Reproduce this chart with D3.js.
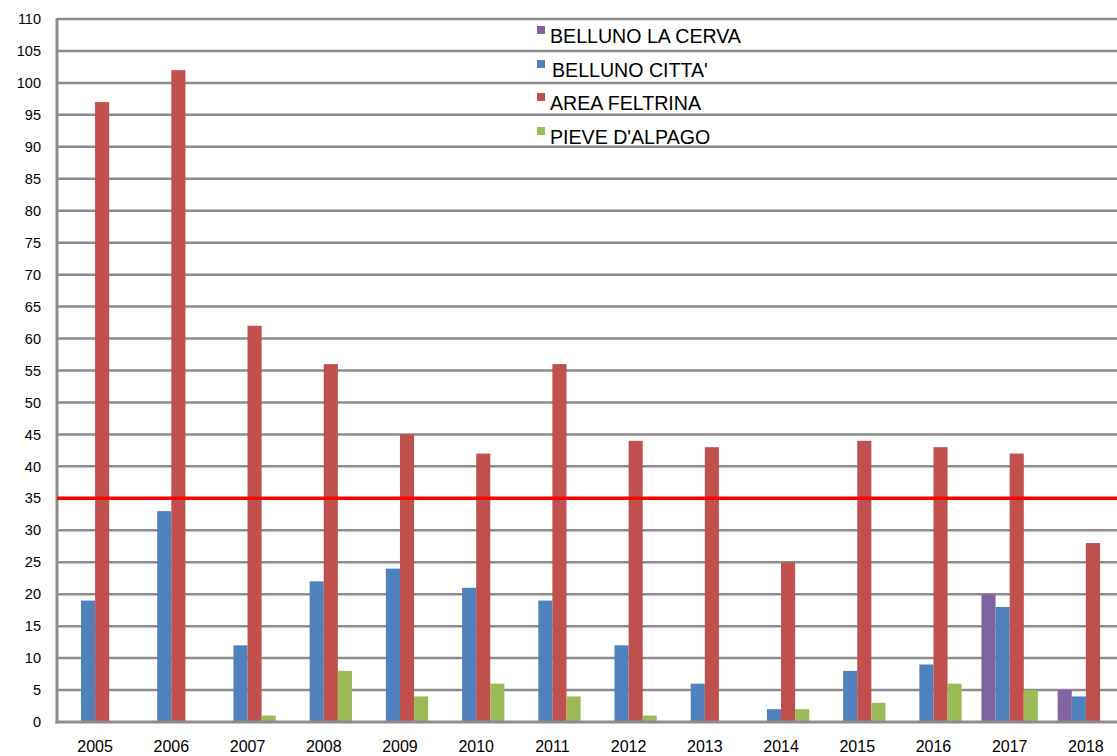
<!DOCTYPE html>
<html><head><meta charset="utf-8">
<script src="https://cdn.jsdelivr.net/npm/d3@7"></script>
<style>body{margin:0;background:#fff;}svg{display:block;}</style>
</head><body>
<svg id="c" width="1117" height="756"></svg>
<script>
const years = ["2005","2006","2007","2008","2009","2010","2011","2012","2013","2014","2015","2016","2017","2018"];
const seriesNames = ["BELLUNO LA CERVA","BELLUNO CITTA'","AREA FELTRINA","PIEVE D'ALPAGO"];
const bellunoLaCerva = [0,0,0,0,0,0,0,0,0,0,0,0,20,5];
const bellunoCitta = [19,33,12,22,24,21,19,12,6,2,8,9,18,4];
const areaFeltrina = [97,102,62,56,45,42,56,44,43,25,44,43,42,28];
const pieveDAlpago = [0,0,1,8,4,6,4,1,0,2,3,6,5,0];
const yTicks = [0,5,10,15,20,25,30,35,40,45,50,55,60,65,70,75,80,85,90,95,100,105,110];
const threshold = 35;
const colors = ["#8064A2","#4F81BD","#C0504D","#9BBB59"];
const seriesData = [bellunoLaCerva,bellunoCitta,areaFeltrina,pieveDAlpago];

(function(){
const svg = d3.select("#c");
const L = 57, R = 1124, T = 19, B = 722;
const y = d3.scaleLinear().domain([0,110]).range([B,T]);
const x = d3.scaleBand().domain(years).range([L,R]).paddingInner(0.26).paddingOuter(0.13);
const xs = d3.scaleBand().domain(d3.range(4)).range([0,x.bandwidth()]);

// gridlines
svg.append("g").selectAll("line").data(yTicks.filter(d=>d>0)).join("line")
  .attr("x1",L).attr("x2",1117).attr("y1",d=>y(d)).attr("y2",d=>y(d))
  .attr("stroke","#8c8c8c").attr("stroke-width",2.5);

// bars
const g = svg.append("g");
seriesData.forEach((arr,si)=>{
  g.append("g").selectAll("rect").data(arr.map((v,i)=>({v,yr:years[i]})).filter(d=>d.v>0)).join("rect")
    .attr("x",d=>x(d.yr)+xs(si)).attr("width",xs.bandwidth())
    .attr("y",d=>y(d.v)).attr("height",d=>y(0)-y(d.v))
    .attr("fill",colors[si]);
});

// axes lines
svg.append("line").attr("x1",L).attr("x2",L).attr("y1",T-1).attr("y2",B+1.5)
  .attr("stroke","#8c8c8c").attr("stroke-width",3);
svg.append("line").attr("x1",L-1.5).attr("x2",1117).attr("y1",B).attr("y2",B)
  .attr("stroke","#8c8c8c").attr("stroke-width",3);

// y tick labels
const yAxis = d3.axisLeft(y).tickValues(yTicks).tickSize(0).tickPadding(16);
const ya = svg.append("g").attr("transform",`translate(${L},0)`).call(yAxis);
ya.select(".domain").remove();
ya.selectAll("text").attr("font-family","Liberation Sans, Arial, sans-serif").attr("font-size",14.5).attr("fill","#000");

// x labels
const xAxis = d3.axisBottom(x).tickSize(0).tickPadding(19);
const xa = svg.append("g").attr("transform",`translate(0,${B})`).call(xAxis);
xa.select(".domain").remove();
xa.selectAll("text").attr("font-family","Liberation Sans, Arial, sans-serif").attr("font-size",16).attr("fill","#000");

// threshold line
svg.append("line").attr("x1",L).attr("x2",1117).attr("y1",y(threshold)).attr("y2",y(threshold))
  .attr("stroke","#ff0000").attr("stroke-width",3.5);

// legend
const legY = [36,70,103,137];
const lg = svg.append("g");
seriesNames.forEach((n,i)=>{
  lg.append("rect").attr("x",537).attr("y",legY[i]-10).attr("width",8).attr("height",8).attr("fill",colors[i]);
  lg.append("text").attr("x",i===1?552:550).attr("y",legY[i]+7).text(n)
    .attr("font-family","Liberation Sans, Arial, sans-serif").attr("font-size",19.6).attr("fill","#000");
});
})();
</script>
</body></html>
